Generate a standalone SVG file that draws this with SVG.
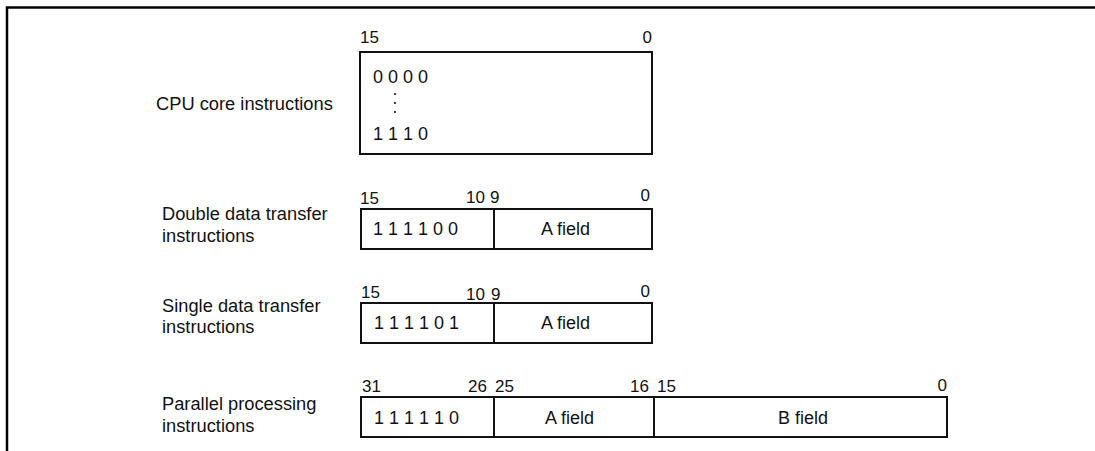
<svg xmlns="http://www.w3.org/2000/svg" width="1095" height="451" viewBox="0 0 1095 451">
<style>
text{font-family:"Liberation Sans",Arial,sans-serif;fill:#111}
.lbl{font-size:18.3px}
.bit{font-size:17px}
.val{font-size:18px}
.box{fill:#fff;stroke:#111;stroke-width:2}
.div{stroke:#111;stroke-width:2}
.frame{stroke:#000;stroke-width:2.5;fill:none}
</style>
<rect width="1095" height="451" fill="#fff"/>
<path class="frame" d="M7,451 V7.5 H1095"/>
<g id="cpu-core">
<text class="lbl" x="156" y="110">CPU core instructions</text>
<rect class="box" x="360" y="52" width="292" height="102"/>
<text class="bit" x="360" y="43">15</text>
<text class="bit" x="652" y="43" text-anchor="end">0</text>
<text class="val" x="373" y="83">0 0 0 0</text>
<circle cx="395" cy="94" r="1.1" fill="#111"/>
<circle cx="395" cy="103" r="1.1" fill="#111"/>
<circle cx="395" cy="112" r="1.1" fill="#111"/>
<text class="val" x="373" y="140">1 1 1 0</text>
</g>
<g id="double-transfer">
<text class="lbl" x="162" y="220">Double data transfer</text>
<text class="lbl" x="162" y="242">instructions</text>
<rect class="box" x="361" y="209" width="291" height="40"/>
<line class="div" x1="494" y1="209" x2="494" y2="249"/>
<text class="bit" x="360" y="204">15</text>
<text class="bit" x="485" y="203" text-anchor="end">10</text>
<text class="bit" x="490" y="203">9</text>
<text class="bit" x="650" y="201" text-anchor="end">0</text>
<text class="val" x="373" y="235">1 1 1 1 0 0</text>
<text class="val" x="541" y="235">A field</text>
</g>
<g id="single-transfer">
<text class="lbl" x="162" y="312">Single data transfer</text>
<text class="lbl" x="162" y="333">instructions</text>
<rect class="box" x="361" y="303" width="291" height="40"/>
<line class="div" x1="494" y1="303" x2="494" y2="343"/>
<text class="bit" x="361" y="298">15</text>
<text class="bit" x="485" y="300" text-anchor="end">10</text>
<text class="bit" x="491" y="300">9</text>
<text class="bit" x="650" y="297" text-anchor="end">0</text>
<text class="val" x="374" y="329">1 1 1 1 0 1</text>
<text class="val" x="541" y="329">A field</text>
</g>
<g id="parallel-processing">
<text class="lbl" x="162" y="410">Parallel processing</text>
<text class="lbl" x="162" y="432">instructions</text>
<rect class="box" x="361" y="397" width="586" height="40"/>
<line class="div" x1="494" y1="397" x2="494" y2="437"/>
<line class="div" x1="654" y1="397" x2="654" y2="437"/>
<text class="bit" x="362" y="392">31</text>
<text class="bit" x="487" y="392" text-anchor="end">26</text>
<text class="bit" x="495" y="392">25</text>
<text class="bit" x="649" y="392" text-anchor="end">16</text>
<text class="bit" x="657" y="392">15</text>
<text class="bit" x="947" y="391" text-anchor="end">0</text>
<text class="val" x="374" y="424">1 1 1 1 1 0</text>
<text class="val" x="545" y="424">A field</text>
<text class="val" x="778" y="424">B field</text>
</g>
</svg>
